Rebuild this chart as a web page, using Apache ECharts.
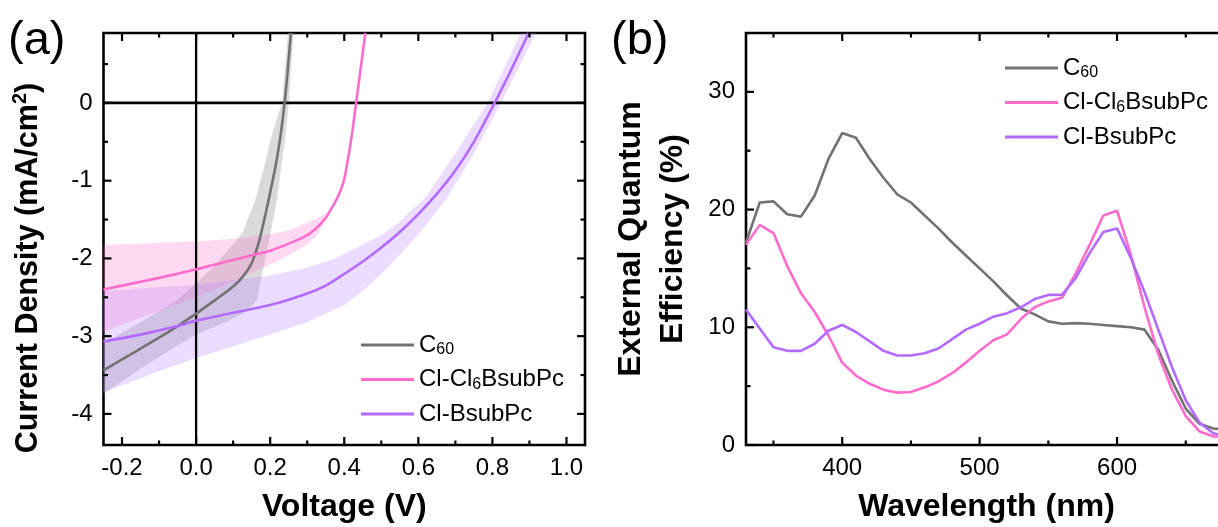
<!DOCTYPE html>
<html>
<head>
<meta charset="utf-8">
<script src="https://cdn.jsdelivr.net/npm/echarts@6/dist/echarts.min.js"></script>
<style>html,body{margin:0;padding:0;background:#fff}#c{width:1218px;height:527px}</style>
</head>
<body>
<div id="c"></div>
<script>
// ---------- Panel (a): J-V curves ----------
const seriesNames = ['C60', 'Cl-Cl6BsubPc', 'Cl-BsubPc'];
const c60JV = [[-0.25,-3.44],[-0.2,-3.30],[-0.15,-3.16],[-0.1,-3.02],[-0.05,-2.87],[0,-2.71],[0.05,-2.54],[0.1,-2.36],[0.125,-2.24],[0.15,-2.06],[0.17,-1.78],[0.185,-1.48],[0.2,-1.15],[0.215,-0.8],[0.228,-0.42],[0.239,0],[0.248,0.45],[0.256,0.9]];
const cl6JV = [[-0.25,-2.40],[-0.2,-2.35],[-0.1,-2.25],[0,-2.14],[0.05,-2.08],[0.1,-2.02],[0.15,-1.96],[0.2,-1.90],[0.26,-1.79],[0.3,-1.70],[0.322,-1.62],[0.335,-1.56],[0.35,-1.48],[0.362,-1.385],[0.375,-1.28],[0.389,-1.14],[0.4,-0.98],[0.41,-0.72],[0.42,-0.43],[0.432,0],[0.445,0.47],[0.457,0.9]];
const bsubJV = [[-0.25,-3.07],[-0.15,-2.98],[-0.05,-2.87],[0,-2.80],[0.1,-2.70],[0.2,-2.60],[0.3,-2.45],[0.35,-2.35],[0.4,-2.20],[0.45,-2.04],[0.5,-1.86],[0.55,-1.66],[0.6,-1.43],[0.65,-1.17],[0.7,-0.87],[0.75,-0.5],[0.806,0],[0.85,0.42],[0.898,0.9]];
// shaded spread bands: two boundary polylines each
const c60BandA = [[-0.25,-3.09],[-0.15,-2.82],[-0.052,-2.54],[0.047,-2.11],[0.124,-1.68],[0.16,-1.25],[0.185,-0.8],[0.205,-0.4],[0.232,0],[0.248,0.9]];
const c60BandB = [[-0.25,-3.74],[-0.15,-3.42],[-0.05,-3.12],[0,-2.98],[0.08,-2.82],[0.13,-2.7],[0.164,-2.54],[0.182,-2.11],[0.2,-1.7],[0.218,-1.25],[0.232,-0.75],[0.243,-0.35],[0.25,0],[0.263,0.9]];
const cl6BandA = [[-0.25,-1.83],[0,-1.78],[0.1,-1.75],[0.19,-1.70],[0.25,-1.64],[0.29,-1.56],[0.325,-1.49],[0.36,-1.40]];
const cl6BandB = [[-0.25,-2.94],[-0.1,-2.68],[0,-2.5],[0.1,-2.3],[0.2,-2.08],[0.25,-1.96],[0.3,-1.82],[0.33,-1.68],[0.36,-1.40]];
const bsubBandA = [[-0.25,-2.42],[0,-2.34],[0.2,-2.22],[0.3,-2.12],[0.375,-2.0],[0.45,-1.82],[0.5,-1.7],[0.545,-1.55],[0.622,-1.2],[0.7,-0.65],[0.787,0],[0.876,0.9]];
const bsubBandB = [[-0.25,-3.72],[-0.1,-3.45],[0,-3.28],[0.1,-3.13],[0.2,-2.98],[0.3,-2.82],[0.4,-2.6],[0.45,-2.42],[0.5,-2.2],[0.56,-1.9],[0.62,-1.58],[0.68,-1.2],[0.75,-0.65],[0.823,0],[0.917,0.9]];
const voltRange = [-0.25, 1.05];
const jRange = [-4.4, 0.9];
const voltMajor = [-0.2,0,0.2,0.4,0.6,0.8,1.0];
const voltMinor = [-0.1,0.1,0.3,0.5,0.7,0.9];
const jMajor = [-4,-3,-2,-1,0];
const jMinor = [-3.5,-2.5,-1.5,-0.5,0.5];

// ---------- Panel (b): EQE spectra ----------
const wavelengths = [330,340,350,360,370,380,390,400,410,420,430,440,450,460,470,480,490,500,510,520,530,540,550,560,570,580,590,600,610,620,630,640,650,660,670,680];
const c60EQE = [17.2,20.6,20.7,19.6,19.4,21.2,24.3,26.5,26.1,24.3,22.7,21.3,20.6,19.5,18.4,17.2,16.1,15.0,13.9,12.7,11.6,11.1,10.5,10.3,10.35,10.3,10.2,10.1,10.0,9.8,8.1,5.45,3.1,1.8,1.4,1.3];
const cl6EQE = [17.0,18.7,18.0,15.2,12.9,11.3,9.3,7.0,5.9,5.2,4.7,4.45,4.5,4.9,5.4,6.1,7.0,8.0,8.9,9.4,10.7,11.7,12.2,12.5,14.6,17.0,19.5,19.9,16.2,11.7,7.7,4.7,2.45,1.15,0.75,0.6];
const bsubEQE = [11.5,9.9,8.3,8.0,8.0,8.6,9.7,10.2,9.6,8.8,8.0,7.6,7.6,7.8,8.2,9.0,9.8,10.3,10.9,11.2,11.7,12.4,12.75,12.75,14.2,16.3,18.1,18.4,15.9,13.0,9.8,6.6,3.8,1.9,1.0,0.7];
const wlRange = [330, 680];
const eqeRange = [0, 35];
const wlMajor = [400,500,600];
const wlMinor = [350,450,550,650];
const eqeMajor = [0,10,20,30];
const eqeMinor = [5,15,25];

const colors = {gray:'#727272', pink:'#ff6ccb', purple:'#b36bff'};
const bandColors = {gray:'rgba(150,150,150,0.35)', pink:'rgba(255,120,210,0.28)', purple:'rgba(185,130,255,0.28)'};
const FONT = "'Liberation Sans', Arial, Helvetica, sans-serif";

function mainAxis(dim, gridIndex, range, majors, opt) {
  return {
    type:'value', gridIndex, min:range[0], max:range[1], position: dim === 'x' ? 'bottom' : 'left',
    splitLine:{show:false}, axisPointer:{show:false},
    axisLine:{show:false, onZero:false}, axisTick:{show:false},
    axisLabel:Object.assign({show:true, customValues:majors, color:'#000', fontSize:24, fontFamily:FONT, margin:11}, opt.label),
    name:opt.name, nameLocation:'middle', nameGap:opt.nameGap, nameRotate: dim === 'y' ? 90 : 0,
    nameTextStyle:{color:'#000', fontSize:opt.nameSize || 32, fontWeight:'bold', fontFamily:FONT, lineHeight:opt.lineHeight || 36,
      padding:opt.namePad || 0,
      rich:{sup:{fontSize:20, fontWeight:'bold', fontFamily:FONT, color:'#000', verticalAlign:'top', lineHeight:34}}}
  };
}

const xAxes = [
  mainAxis('x', 0, voltRange, voltMajor, {name:'Voltage (V)', nameGap:44, label:{formatter:v => v.toFixed(1)}}),
  mainAxis('x', 1, wlRange, wlMajor, {name:'Wavelength (nm)', nameGap:44, label:{}})
];
const yAxes = [
  mainAxis('y', 0, jRange, jMajor, {name:'Current Density (mA/cm{sup|2})', nameSize:30.5, nameGap:57, namePad:[0,58,0,0], label:{formatter:v => String(v)}}),
  mainAxis('y', 1, eqeRange, eqeMajor, {name:'External Quantum\nEfficiency (%)', nameGap:52, lineHeight:42, label:{}})
];

// inward ticks on all four sides, positioned through the axes' own scales
function tickSeries(axisIdx, xr, yr, xMaj, xMin, yMaj, yMin) {
  return {
    type:'custom', xAxisIndex:axisIdx, yAxisIndex:axisIdx, silent:true, z:6, data:[[xr[0], yr[0]]],
    renderItem: function (params, api) {
      const cs = params.coordSys;
      const top = cs.y, bottom = cs.y + cs.height, left = cs.x, right = cs.x + cs.width;
      const st = {stroke:'#000', lineWidth:2.2};
      const kids = [];
      const addX = (v, len) => {
        const x = api.coord([v, yr[0]])[0];
        kids.push({type:'line', shape:{x1:x, y1:bottom, x2:x, y2:bottom - len}, style:st});
        kids.push({type:'line', shape:{x1:x, y1:top, x2:x, y2:top + len}, style:st});
      };
      const addY = (v, len) => {
        const y = api.coord([xr[0], v])[1];
        kids.push({type:'line', shape:{x1:left, y1:y, x2:left + len, y2:y}, style:st});
        kids.push({type:'line', shape:{x1:right, y1:y, x2:right - len, y2:y}, style:st});
      };
      xMaj.forEach(v => addX(v, 8)); xMin.forEach(v => addX(v, 4.5));
      yMaj.forEach(v => addY(v, 8)); yMin.forEach(v => addY(v, 4.5));
      return {type:'group', children:kids};
    }
  };
}

function bandSeries(name, a, b, color) {
  return {
    name, type:'custom', xAxisIndex:0, yAxisIndex:0, silent:true, z:1, data:[[0,0]],
    renderItem: function (params, api) {
      const pts = a.concat(b.slice().reverse()).map(p => api.coord(p));
      return {type:'polygon', shape:{points:pts}, style:{fill:color, stroke:null}};
    }
  };
}
function lineSeries(name, data, color, idx, smooth) {
  return {name, type:'line', xAxisIndex:idx, yAxisIndex:idx, data, smooth, showSymbol:false, symbol:'none', z:4,
    lineStyle:{color, width:2.6}, itemStyle:{color}};
}

const series = [
  bandSeries('C60 band', c60BandA, c60BandB, bandColors.gray),
  bandSeries('Cl6 band', cl6BandA, cl6BandB, bandColors.pink),
  bandSeries('BsubPc band', bsubBandA, bsubBandB, bandColors.purple),
  {name:'zeroH', type:'line', xAxisIndex:0, yAxisIndex:0, data:[[voltRange[0],0],[voltRange[1],0]], symbol:'none', z:3, lineStyle:{color:'#000', width:2.8}},
  {name:'zeroV', type:'line', xAxisIndex:0, yAxisIndex:0, data:[[0,jRange[0]],[0,jRange[1]]], symbol:'none', z:3, lineStyle:{color:'#000', width:2.3}},
  lineSeries(seriesNames[0], c60JV, colors.gray, 0, 0.3),
  lineSeries(seriesNames[1], cl6JV, colors.pink, 0, 0.3),
  lineSeries(seriesNames[2], bsubJV, colors.purple, 0, 0.3),
  lineSeries(seriesNames[0], wavelengths.map((w, i) => [w, c60EQE[i]]), colors.gray, 1, false),
  lineSeries(seriesNames[1], wavelengths.map((w, i) => [w, cl6EQE[i]]), colors.pink, 1, false),
  lineSeries(seriesNames[2], wavelengths.map((w, i) => [w, bsubEQE[i]]), colors.purple, 1, false),
  tickSeries(0, voltRange, jRange, voltMajor, voltMinor, jMajor, jMinor),
  tickSeries(1, wlRange, eqeRange, wlMajor, wlMinor, eqeMajor, eqeMinor)
];

const legendFmt = n => ({'C60':'C{sub|60}', 'Cl-Cl6BsubPc':'Cl-Cl{sub|6}BsubPc', 'Cl-BsubPc':'Cl-BsubPc'}[n]);
function legend(left, top) {
  return {data:seriesNames, orient:'vertical', left, top, itemWidth:53, itemHeight:3, itemGap:8.5, icon:'rect',
    selectedMode:false, formatter:legendFmt,
    textStyle:{color:'#000', fontSize:24, fontFamily:FONT, lineHeight:26,
      rich:{sub:{fontSize:16, fontFamily:FONT, color:'#000', lineHeight:11, verticalAlign:'bottom'}}}};
}

const chart = echarts.init(document.getElementById('c'), null, {renderer:'canvas'});
chart.setOption({
  animation:false,
  backgroundColor:'#fff',
  grid:[
    {left:103.5, right:633, top:33, bottom:82, containLabel:false, outerBoundsMode:'none', show:true, borderColor:'#000', borderWidth:2.6, backgroundColor:'transparent'},
    {left:746, right:-9, top:33, bottom:82, containLabel:false, outerBoundsMode:'none', show:true, borderColor:'#000', borderWidth:2.6, backgroundColor:'transparent'}
  ],
  xAxis:xAxes,
  yAxis:yAxes,
  legend:[legend(356, 327), legend(1000, 50)],
  graphic:[
    {type:'text', left:8, top:18, style:{text:'(a)', font:'47px ' + FONT, fill:'#000'}},
    {type:'text', left:611, top:18, style:{text:'(b)', font:'47px ' + FONT, fill:'#000'}}
  ],
  series
});
</script>
</body>
</html>
